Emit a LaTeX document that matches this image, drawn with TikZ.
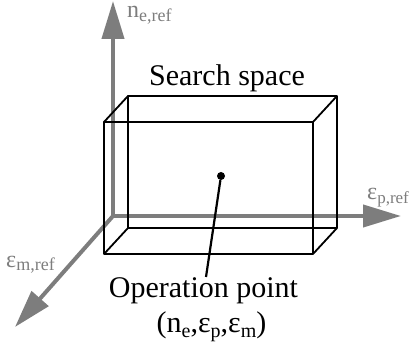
\documentclass[tikz,border=0pt]{standalone}
\usepackage{fontspec}
\setmainfont{Liberation Serif}
\usetikzlibrary{arrows.meta}
\definecolor{axisgray}{RGB}{125,125,125}
\newcommand{\sbx}[3]{\raisebox{-#1pt}{\fontsize{#2}{#2}\selectfont #3}}
\begin{document}
\begin{tikzpicture}[x=1pt,y=-1pt,
  axis/.style={draw=axisgray,line width=4pt,-{Triangle[length=38pt,width=22pt]}},
  axlabel/.style={text=axisgray,font=\fontsize{24}{24}\selectfont,inner sep=0pt,anchor=base west},
  edge/.style={draw=black,line width=1.8pt,line join=round},
  bigtext/.style={font=\fontsize{30}{30}\selectfont,inner sep=0pt,anchor=base}]
\useasboundingbox (0,0) rectangle (412,347);
% axes
\coordinate (O) at (113,216);
\coordinate (ztip) at (113,1);
\coordinate (xtip) at (401,216);
\coordinate (ytip) at (15,327);
\draw[axis] (O) -- (ztip);
\draw[axis] (O) -- (xtip);
\draw[axis] (O) -- (ytip);
\node[axlabel] (nlab) at (127,18) {n\sbx{4}{18}{e,ref}};
\node[axlabel] (plab) at (367,200) {ε\sbx{4}{17}{p,ref}};
\node[axlabel] (mlab) at (6,268) {ε\sbx{3}{18}{m,ref}};
% box
\coordinate (f1) at (104,122);
\coordinate (f2) at (313,122);
\coordinate (f3) at (313,254);
\coordinate (f4) at (104,254);
\coordinate (b1) at (128,96);
\coordinate (b2) at (337,96);
\coordinate (b3) at (337,228);
\coordinate (b4) at (128,228);
\draw[edge] (f1) -- (f2) -- (f3) -- (f4) -- cycle;
\draw[edge] (b1) -- (b2) -- (b3) -- (b4) -- cycle;
\draw[edge] (f1) -- (b1);
\draw[edge] (f2) -- (b2);
\draw[edge] (f3) -- (b3);
\draw[edge] (f4) -- (b4);
% labels
\node[bigtext] (ss) at (227,86) {Search space};
\node[circle,fill=black,inner sep=0pt,minimum size=8pt] (pt) at (221,176) {};
\node[bigtext] (op) at (203.5,298) {Operation point};
\node[bigtext] (coords) at (211.5,332) {(n\sbx{5}{20}{e},ε\sbx{5}{20}{p},ε\sbx{5}{20}{m})};
\coordinate (lead) at (206,277);
\draw[line width=2.2pt] (pt) -- (lead);
\end{tikzpicture}
\end{document}
